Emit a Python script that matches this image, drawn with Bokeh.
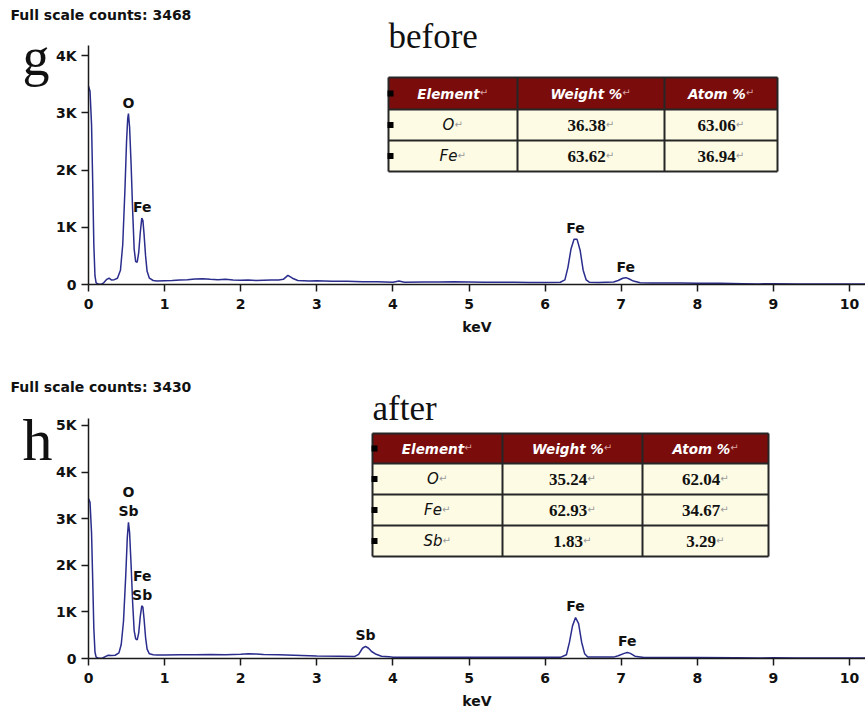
import numpy as np
from bokeh.plotting import figure
from bokeh.models import Range1d, Label, FixedTicker
from bokeh.layouts import column
from bokeh.embed import file_html
from bokeh.resources import INLINE
from bokeh.core.properties import value

# ---------------- EDS spectra (energy in keV, counts) ----------------
energy_before = [0.00, 0.02, 0.04, 0.055, 0.07, 0.085, 0.10, 0.13, 0.17, 0.20, 0.24, 0.27,
                 0.30, 0.34, 0.38, 0.42, 0.45, 0.48, 0.50, 0.515, 0.525, 0.54, 0.56, 0.58,
                 0.60, 0.62, 0.64, 0.66, 0.68, 0.70, 0.715, 0.73, 0.75, 0.77, 0.80, 0.85,
                 0.90, 1.0, 1.1, 1.2, 1.3, 1.4, 1.5, 1.6, 1.7, 1.8, 1.9, 2.0, 2.1, 2.2,
                 2.3, 2.4, 2.5, 2.56, 2.62, 2.68, 2.75, 2.9, 3.0, 3.2, 3.4, 3.6, 3.8, 4.0,
                 4.08, 4.15, 4.4, 4.6, 4.8, 5.0, 5.2, 5.4, 5.6, 5.8, 6.0, 6.2, 6.26, 6.30,
                 6.34, 6.38, 6.42, 6.46, 6.50, 6.54, 6.58, 6.7, 6.9, 6.96, 7.02, 7.06,
                 7.10, 7.16, 7.25, 7.4, 7.6, 7.8, 8.0, 8.3, 8.6, 8.8, 9.0, 9.3, 9.6, 9.9,
                 10.21]
counts_before = [3468, 3380, 2800, 1800, 700, 150, 30, 5, 5, 30, 90, 110,
                 80, 85, 110, 250, 700, 1700, 2500, 2900, 2990, 2750, 2100, 1300,
                 620, 400, 390, 560, 900, 1160, 1120, 880, 500, 230, 110, 70,
                 60, 65, 70, 80, 85, 95, 100, 90, 85, 90, 80, 75, 80, 70,
                 75, 80, 80, 90, 160, 110, 70, 60, 65, 55, 55, 50, 50, 40,
                 60, 40, 45, 45, 50, 45, 40, 40, 40, 35, 35, 40, 80, 300,
                 620, 790, 790, 600, 250, 80, 40, 35, 45, 70, 110, 120,
                 100, 60, 30, 25, 25, 25, 20, 20, 15, 10, 15, 10, 10, 10,
                 10]

energy_after = [0.00, 0.02, 0.04, 0.055, 0.07, 0.085, 0.10, 0.13, 0.18, 0.22, 0.26, 0.30,
                0.35, 0.40, 0.43, 0.46, 0.49, 0.51, 0.525, 0.54, 0.56, 0.58, 0.60, 0.62,
                0.64, 0.66, 0.68, 0.70, 0.715, 0.73, 0.75, 0.77, 0.80, 0.85, 0.90, 1.0,
                1.2, 1.4, 1.6, 1.8, 2.0, 2.1, 2.2, 2.3, 2.5, 2.7, 3.0, 3.3, 3.5, 3.55,
                3.60, 3.64, 3.68, 3.72, 3.78, 3.85, 3.95, 4.0, 4.5, 5.0, 5.5, 6.0, 6.2,
                6.28, 6.32, 6.36, 6.40, 6.44, 6.48, 6.52, 6.56, 6.7, 6.9, 6.96, 7.04,
                7.08, 7.12, 7.18, 7.3, 7.6, 8.0, 8.5, 8.8, 9.0, 9.3, 9.6, 9.9, 10.21]
counts_after = [3430, 3350, 2700, 1700, 650, 140, 30, 5, 5, 40, 70, 65,
                70, 120, 300, 800, 1800, 2600, 2920, 2700, 2000, 1200, 600, 420,
                400, 550, 900, 1130, 1100, 850, 450, 200, 100, 80, 75, 75,
                80, 80, 85, 80, 90, 100, 95, 85, 80, 70, 55, 50, 45, 90,
                220, 260, 220, 150, 90, 50, 40, 25, 25, 25, 25, 25, 25,
                80, 350, 700, 880, 750, 350, 100, 30, 30, 30, 60, 110,
                130, 110, 50, 20, 20, 20, 15, 10, 15, 10, 10, 10, 10]

full_scale_before = 3468
full_scale_after = 3430

peak_energy_before = [0.525, 0.705, 6.40, 7.06]
peak_labels_before = [["O"], ["Fe"], ["Fe"], ["Fe"]]
peak_energy_after = [0.525, 0.705, 3.64, 6.40, 7.08]
peak_labels_after = [["O", "Sb"], ["Fe", "Sb"], ["Sb"], ["Fe"], ["Fe"]]

# ---------------- composition tables ----------------
table_header = ["Element", "Weight %", "Atom %"]
elements_before = ["O", "Fe"]
weight_before = ["36.38", "63.62"]
atom_before = ["63.06", "36.94"]
elements_after = ["O", "Fe", "Sb"]
weight_after = ["35.24", "62.93", "1.83"]
atom_after = ["62.04", "34.67", "3.29"]

x_ticks = list(range(0, 11))
y_ticks_before = [0, 1000, 2000, 3000, 4000]
y_ticks_after = [0, 1000, 2000, 3000, 4000, 5000]

# ---------------- layout constants ----------------
W = 865
LEFT = 88            # canvas x of the 0 keV axis
X_END = 10.21
PX_PER_KEV = (W - LEFT) / X_END
X_START = -LEFT / PX_PER_KEV
LINE = "#2a2d8c"
SANS = "DejaVu Sans"
SERIF = "Liberation Serif"

EM = {
    "bold_sans": {"E": .683, "l": .343, "e": .678, "m": 1.042, "n": .712, "t": .478, "W": 1.03,
                  "i": .343, "g": .716, "h": .712, " ": .348, "%": 1.002, "A": .774, "o": .687},
    "sans": {"O": .787, "F": .575, "e": .615, "S": .635, "b": .635},
    "bold_serif": {".": .25},
}


def text_width(s, size, kind):
    table = EM[kind]
    return sum(table.get(c, 0.5) for c in s) * size


class Panel:
    """One spectrum panel whose plotting frame fills the whole canvas."""

    def __init__(self, height, axis_top, axis_zero, y_end, y_ticks):
        self.h = height
        self.ppc = (axis_zero - axis_top) / y_end      # pixels per count
        self.zero = axis_zero
        y_lo = -(height - axis_zero) / self.ppc
        y_hi = axis_zero / self.ppc
        p = figure(width=W, height=height, x_range=Range1d(X_START, X_END),
                   y_range=Range1d(y_lo, y_hi), output_backend="svg", toolbar_location=None,
                   min_border=0)
        p.outline_line_color = None
        p.xgrid.visible = False
        p.ygrid.visible = False
        p.background_fill_color = "white"
        p.border_fill_color = "white"

        for ax in (p.xaxis[0], p.yaxis[0]):
            ax.fixed_location = 0
            ax.axis_line_color = "#1a1a1a"
            ax.axis_line_width = 1.5
            ax.major_tick_line_color = "#1a1a1a"
            ax.major_tick_line_width = 1.5
            ax.major_tick_in = 0
            ax.major_tick_out = 7
            ax.minor_tick_line_color = None
            ax.major_label_text_font = SANS
            ax.major_label_text_font_style = "bold"
            ax.major_label_text_font_size = "14px"
            ax.major_label_text_color = "#111111"

        p.xaxis.bounds = (0, X_END)
        p.xaxis.ticker = FixedTicker(ticks=x_ticks)
        p.xaxis.major_label_standoff = 7
        p.xaxis.axis_label = "keV"
        p.xaxis.axis_label_text_font = SANS
        p.xaxis.axis_label_text_font_style = "bold"
        p.xaxis.axis_label_text_font_size = "14px"
        p.xaxis.axis_label_text_color = "#111111"
        p.xaxis.axis_label_standoff = 7

        p.yaxis.bounds = (0, y_end)
        p.yaxis.ticker = FixedTicker(ticks=y_ticks)
        p.yaxis.major_label_overrides = {t: ("0" if t == 0 else f"{t // 1000}K") for t in y_ticks}
        p.yaxis.major_label_standoff = 5
        self.p = p

    # canvas pixel -> data
    def dx(self, px):
        return X_START + px / PX_PER_KEV

    def dy(self, py):
        return (self.zero - py) / self.ppc

    def spectrum(self, energy, counts, peak_energy, peak_labels):
        p = self.p
        p.line(energy, counts, line_color=LINE, line_width=1.5)
        e = np.asarray(energy)
        c = np.asarray(counts)
        for pe, lines in zip(peak_energy, peak_labels):
            top = c[np.abs(e - pe) <= 0.03].max()
            for k, word in enumerate(reversed(lines)):
                p.text(x=[pe], y=[top], text=[word], text_align="center", text_baseline="bottom",
                       y_offset=-3 - 19 * k, text_font=value(SANS), text_font_style="bold",
                       text_font_size="14px", text_color="#111111")

    def table(self, col_px, row_px, rows):
        p, dx, dy = self.p, self.dx, self.dy
        x0, x1 = dx(col_px[0]), dx(col_px[-1])
        p.quad(left=[x0], right=[x1], top=[dy(row_px[0])], bottom=[dy(row_px[1])],
               fill_color="#7a0c0c", line_color=None)
        p.quad(left=[x0], right=[x1], top=[dy(row_px[1])], bottom=[dy(row_px[-1])],
               fill_color="#fdfbe4", line_color=None)
        xs, ys = [], []
        for r in row_px:
            xs.append([x0, x1]); ys.append([dy(r), dy(r)])
        for cpx in col_px:
            xs.append([dx(cpx), dx(cpx)]); ys.append([dy(row_px[0]), dy(row_px[-1])])
        p.multi_line(xs, ys, line_color="#262626", line_width=2)
        centers_y = [(row_px[i] + row_px[i + 1]) / 2 for i in range(len(row_px) - 1)]
        p.rect(x=[dx(col_px[0] + 2)] * len(centers_y), y=[dy(cy) for cy in centers_y],
               width=6, height=6, width_units="screen", height_units="screen",
               fill_color="black", line_color=None)
        arrow_w = 9
        for ri, row in enumerate(rows):
            cy = centers_y[ri]
            for ci, txt in enumerate(row):
                cx = (col_px[ci] + col_px[ci + 1]) / 2
                if ri == 0:
                    kind, size, font, style, color, acolor = "bold_sans", 13.5, SANS, "bold italic", "white", "#d9a3a3"
                elif ci == 0:
                    kind, size, font, style, color, acolor = "sans", 15, SANS, "italic", "#111111", "#9a9a9a"
                else:
                    kind, size, font, style, color, acolor = "bold_serif", 17, SERIF, "bold", "#111111", "#9a9a9a"
                tw = text_width(txt, size, kind)
                split = cx + (tw - arrow_w) / 2
                p.text(x=[dx(split)], y=[dy(cy)], text=[txt], text_align="right",
                       text_baseline="middle", text_font=value(font), text_font_style=style,
                       text_font_size=f"{size}px", text_color=color)
                p.text(x=[dx(split)], y=[dy(cy - 1)], text=["\u21b5"], text_align="left",
                       text_baseline="middle", text_font=value(SANS), text_font_size="10px",
                       text_color=acolor)

    def _serif(self, text, x, baseline, size):
        # middle of the serif em box sits about 0.34 em above the baseline
        self.p.add_layout(Label(x=x, y=self.h - (baseline - 0.34 * size), x_units="screen",
                                y_units="screen", text=text, text_font=SERIF,
                                text_font_size=f"{size}px", text_color="#111111",
                                text_baseline="middle", text_align="left"))

    def captions(self, full_scale, title_y, letter, letter_size, letter_base, word, word_x, word_base,
                 word_size):
        self.p.add_layout(Label(x=10, y=self.h - title_y, x_units="screen", y_units="screen",
                                text=f"Full scale counts: {full_scale}", text_font=SANS,
                                text_font_style="bold", text_font_size="14px", text_color="#111111",
                                text_baseline="middle", text_align="left"))
        self._serif(letter, 22, letter_base, letter_size)
        self._serif(word, word_x, word_base, word_size)


# ---------------- panel g: before ----------------
g = Panel(357, 45, 284, 4180, y_ticks_before)
g.spectrum(energy_before, counts_before, peak_energy_before, peak_labels_before)
rows_g = [table_header] + [[e, w, a] for e, w, a in zip(elements_before, weight_before, atom_before)]
g.table([388, 517, 664, 777], [77, 109, 140, 171], rows_g)
g.captions(full_scale_before, 14, "g", 54, 75, "before", 388, 48, 35)

# ---------------- panel h: after ----------------
h = Panel(358, 61, 301, 5150, y_ticks_after)
h.spectrum(energy_after, counts_after, peak_energy_after, peak_labels_after)
rows_h = [table_header] + [[e, w, a] for e, w, a in zip(elements_after, weight_after, atom_after)]
h.table([372, 502, 642, 768], [76, 106, 137, 168, 199], rows_h)
h.captions(full_scale_after, 29, "h", 60, 103, "after", 372, 63, 35)

layout = column(g.p, h.p)
open("out.html", "w").write(file_html(layout, INLINE))
